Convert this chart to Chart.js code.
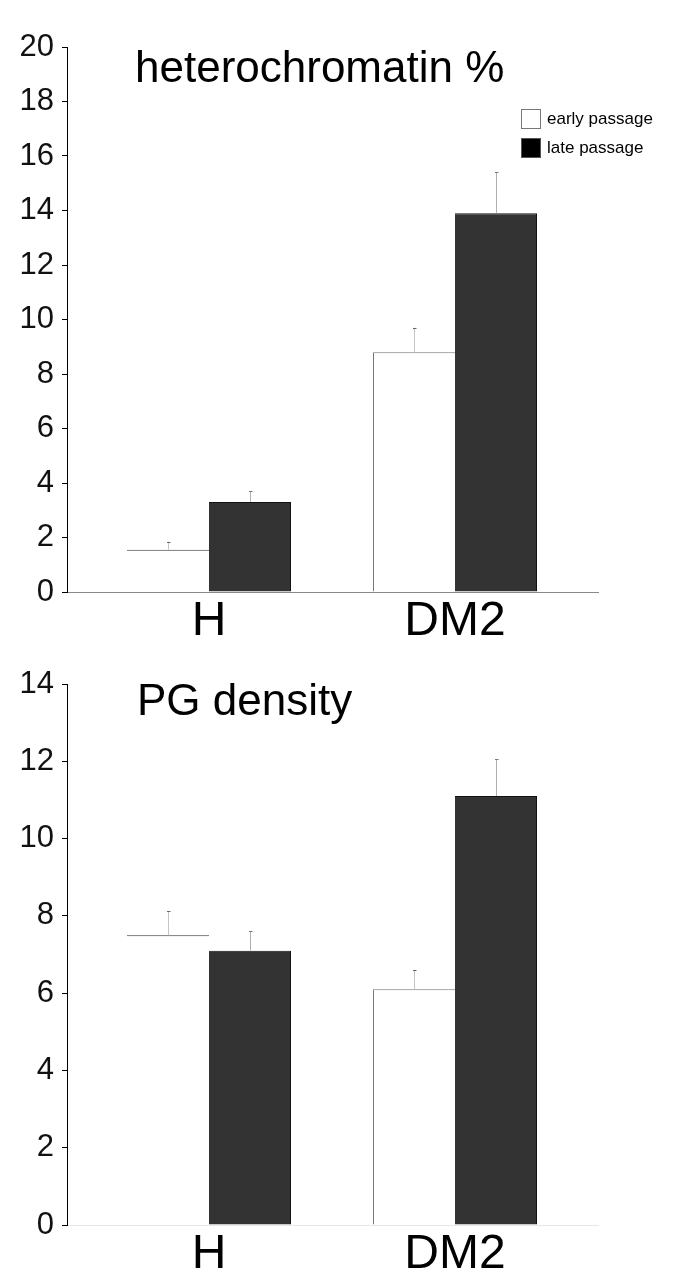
<!DOCTYPE html>
<html><head><meta charset="utf-8">
<script src="https://cdn.jsdelivr.net/npm/chart.js@4.4.1/dist/chart.umd.min.js"></script>
<style>
html,body{margin:0;padding:0;background:#fff;width:685px;height:1282px;overflow:hidden;position:relative;font-family:"Liberation Sans",Arial,sans-serif;}
.wrap{position:absolute;left:0;width:685px;}
#w1{top:0;height:650px;}
#w2{top:637px;height:645px;}
canvas{display:block;}
.legend{position:absolute;left:521px;top:104px;font-size:17px;color:#000;font-family:"Liberation Sans",Arial,sans-serif;}
.legend .item{display:flex;align-items:center;height:29px;}
.legend .box{width:20px;height:20px;box-sizing:border-box;margin-right:6px;}
</style></head><body>
<div class="wrap" id="w1"><canvas id="c1" width="685" height="650"></canvas></div>
<div class="wrap" id="w2"><canvas id="c2" width="685" height="645"></canvas></div>
<div class="legend" id="legend"></div>
<script>
// ---- data ----
const categories = ['H', 'DM2'];
const seriesNames = ['early passage', 'late passage'];

const hetTitle = 'heterochromatin %';
const hetEarly = [1.55, 8.8];
const hetEarlyErr = [0.3, 0.9];
const hetLate = [3.3, 13.9];
const hetLateErr = [0.4, 1.5];
const hetTicks = [0, 2, 4, 6, 8, 10, 12, 14, 16, 18, 20];

const pgTitle = 'PG density';
const pgEarly = [7.5, 6.1];
const pgEarlyErr = [0.62, 0.5];
const pgLate = [7.1, 11.1];
const pgLateErr = [0.5, 0.95];
const pgTicks = [0, 2, 4, 6, 8, 10, 12, 14];

// ---- plugins ----
const errorBars = {
  id: 'errorBars',
  afterDatasetsDraw(chart) {
    const ctx = chart.ctx, ys = chart.scales.y;
    chart.data.datasets.forEach((ds, di) => {
      const meta = chart.getDatasetMeta(di);
      meta.data.forEach((bar, i) => {
        const v = ds.data[i].y, e = ds.errors[i];
        const top = ys.getPixelForValue(v + e);
        const x = Math.round(bar.x) + 0.5;
        ctx.save();
        ctx.lineWidth = 1;
        ctx.strokeStyle = ds.errorColor;
        ctx.beginPath(); ctx.moveTo(x, bar.y); ctx.lineTo(x, top); ctx.stroke();
        ctx.strokeStyle = ds.capColor;
        ctx.beginPath(); ctx.moveTo(x - 1.5, Math.round(top) + 0.5); ctx.lineTo(x + 2, Math.round(top) + 0.5); ctx.stroke();
        ctx.restore();
      });
    });
  }
};
const panelTitle = {
  id: 'panelTitle',
  afterDraw(chart, args, opts) {
    if (!opts || !opts.text) return;
    const ctx = chart.ctx;
    ctx.save();
    ctx.font = opts.font;
    ctx.fillStyle = '#000';
    ctx.textBaseline = 'alphabetic';
    ctx.textAlign = 'left';
    ctx.fillText(opts.text, opts.x, opts.y);
    ctx.restore();
  }
};

const FONT = '"Liberation Sans", Arial, sans-serif';

function makeChart(id, early, earlyErr, late, lateErr, ticks, title, titleX, titleY, xBorderColor, xAxisHeight) {
  const data = {
    datasets: [
      {
        label: seriesNames[0],
        data: categories.map((c, i) => ({ x: i, y: early[i] })),
        errors: earlyErr,
        backgroundColor: '#ffffff',
        borderColor: (c) => c.dataIndex === 0 ? '#333333' : '#777777',
        borderWidth: (c) => c.dataIndex === 0 ? { top: 1, left: 0, right: 0, bottom: 0 } : { top: 1, left: 1, right: 0, bottom: 0 },
        borderSkipped: false,
        errorColor: '#c4c4c4',
        capColor: '#666666',
        legendFill: '#ffffff',
        legendBorder: '#777777'
      },
      {
        label: seriesNames[1],
        data: categories.map((c, i) => ({ x: i, y: late[i] })),
        errors: lateErr,
        backgroundColor: '#333333',
        borderColor: '#111111',
        borderWidth: { top: 1, left: 0, right: 1, bottom: 0 },
        borderSkipped: false,
        errorColor: '#b0b0b0',
        capColor: '#777777',
        legendFill: '#000000',
        legendBorder: '#555555'
      }
    ]
  };
  return new Chart(document.getElementById(id), {
    type: 'bar',
    data,
    plugins: [errorBars, panelTitle],
    options: {
      responsive: false,
      animation: false,
      events: [],
      layout: { padding: { top: 47, right: 87, left: 0, bottom: 0 } },
      categoryPercentage: 2 / 3,
      barPercentage: 1,
      plugins: {
        legend: { display: false },
        tooltip: { enabled: false },
        title: { display: false },
        panelTitle: { text: title, x: titleX, y: titleY, font: '44px ' + FONT }
      },
      scales: {
        x: {
          type: 'linear',
          offset: false,
          min: -0.5772,
          max: 1.5813,
          grid: { display: false, drawTicks: false },
          border: { display: true, color: xBorderColor, width: 1 },
          afterBuildTicks: (s) => { s.ticks = categories.map((c, i) => ({ value: i })); },
          afterFit: (s) => { s.height = xAxisHeight; },
          ticks: {
            autoSkip: false,
            maxRotation: 0,
            padding: 6,
            color: '#000',
            font: { family: FONT, size: 48, lineHeight: 1 },
            callback: (v) => categories[v]
          }
        },
        y: {
          type: 'linear',
          min: ticks[0],
          max: ticks[ticks.length - 1],
          afterBuildTicks: (s) => { s.ticks = ticks.map((t) => ({ value: t })); },
          afterFit: (s) => { s.width = 67; },
          grid: { drawOnChartArea: false, drawTicks: true, tickLength: 5, color: '#000', lineWidth: 1 },
          border: { display: true, color: '#000', width: 1 },
          ticks: {
            padding: 8,
            color: '#111',
            font: { family: FONT, size: 31, lineHeight: 1 }
          }
        }
      }
    }
  });
}

const chart1 = makeChart('c1', hetEarly, hetEarlyErr, hetLate, hetLateErr, hetTicks, hetTitle, 135, 82, '#8a8a8a', 58);
const chart2 = makeChart('c2', pgEarly, pgEarlyErr, pgLate, pgLateErr, pgTicks, pgTitle, 137, 78, '#e8e8e8', 57);

// HTML legend built from chart 1 datasets
const legendEl = document.getElementById('legend');
chart1.data.datasets.forEach((ds) => {
  const item = document.createElement('div');
  item.className = 'item';
  const box = document.createElement('span');
  box.className = 'box';
  box.style.background = ds.legendFill;
  box.style.border = '1px solid ' + ds.legendBorder;
  const txt = document.createElement('span');
  txt.textContent = ds.label;
  item.appendChild(box);
  item.appendChild(txt);
  legendEl.appendChild(item);
});
</script>
</body></html>
